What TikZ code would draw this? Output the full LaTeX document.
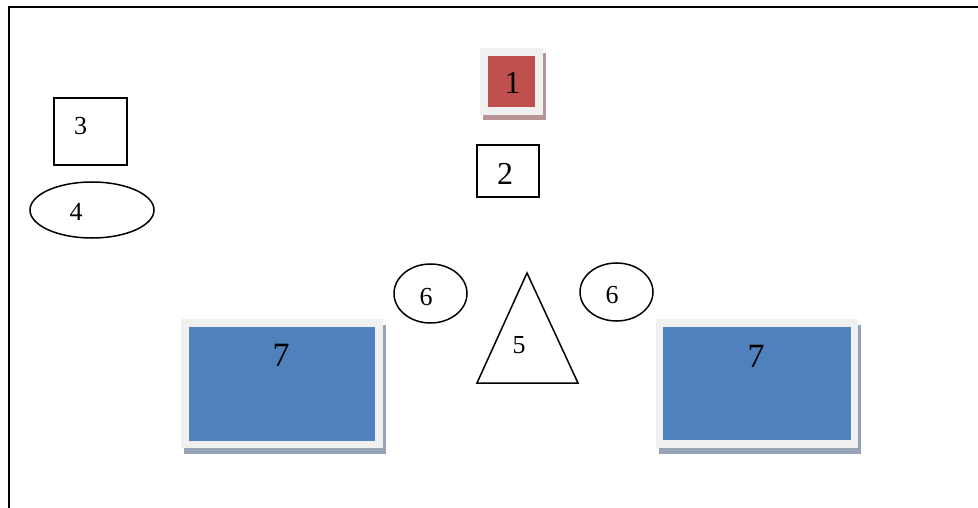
\documentclass[tikz,border=0pt]{standalone}
\usepackage{fontspec}
\setmainfont{Liberation Serif}
\usetikzlibrary{shapes.geometric,shadows}
\definecolor{framegrey}{HTML}{F0F0F0}
\definecolor{redfill}{HTML}{C0504D}
\definecolor{redshadow}{HTML}{BA9494}
\definecolor{bluefill}{HTML}{4F81BD}
\definecolor{blueshadow}{HTML}{95A3B4}
\tikzset{
  outline/.style={draw=black, line width=1.5pt, fill=white, inner sep=0pt},
  framebox/.style={rectangle, fill=framegrey, inner sep=0pt,
    drop shadow={shadow xshift=2.5pt, shadow yshift=-5.5pt, fill=#1, opacity=1}},
  innerbox/.style={rectangle, fill=#1, inner sep=0pt},
  biglabel/.style={inner sep=0pt, font=\fontsize{32}{36}\selectfont},
  hugelabel/.style={inner sep=0pt, font=\fontsize{34}{38}\selectfont},
  smalllabel/.style={inner sep=0pt, font=\fontsize{26}{30}\selectfont},
}
\begin{document}
\begin{tikzpicture}[x=1pt,y=-1pt]
\useasboundingbox (0,0) rectangle (978,508);
% page frame
\coordinate (ftl) at (8.5,7);
\coordinate (ftr) at (978,7);
\coordinate (fbl) at (8.5,508);
\draw[line width=2pt] (ftr) -- (ftl) -- (fbl);
% box 1
\node[framebox=redshadow, minimum width=63pt, minimum height=67pt] (f1) at (511.5,81.5) {};
\node[innerbox=redfill, minimum width=47pt, minimum height=51pt] (b1) at (511.5,81.5) {};
\node[biglabel] (l1) at (512.5,83) {1};
% box 2
\node[outline, rectangle, minimum width=62pt, minimum height=52pt] (b2) at (508,171) {};
\node[biglabel] (l2) at (505,174) {2};
% box 3
\node[outline, rectangle, minimum width=73pt, minimum height=67pt] (b3) at (90.5,131.5) {};
\node[smalllabel] (l3) at (80.5,126) {3};
% ellipse 4
\node[outline, ellipse, minimum width=124pt, minimum height=56pt] (e4) at (92,210) {};
\node[smalllabel] (l4) at (76,212) {4};
% ellipses 6
\node[outline, ellipse, minimum width=73pt, minimum height=59pt] (e6a) at (430.5,293.5) {};
\node[smalllabel] (l6a) at (426,297) {6};
\node[outline, ellipse, minimum width=73pt, minimum height=58pt] (e6b) at (616.5,292) {};
\node[smalllabel] (l6b) at (612,295) {6};
% triangle 5
\coordinate (ta) at (527,273);
\coordinate (tb) at (477,383);
\coordinate (tc) at (578,383);
\draw[line width=1.5pt, line join=miter] (ta) -- (tb) -- (tc) -- cycle;
\node[smalllabel] (l5) at (519,345) {5};
% blue boxes
\node[framebox=blueshadow, minimum width=202pt, minimum height=129pt] (f7a) at (282,383.5) {};
\node[innerbox=bluefill, minimum width=186pt, minimum height=114pt] (b7a) at (282,384) {};
\node[hugelabel] (l7a) at (281,355) {7};
\node[framebox=blueshadow, minimum width=202pt, minimum height=129pt] (f7b) at (757,383.5) {};
\node[innerbox=bluefill, minimum width=188pt, minimum height=113pt] (b7b) at (757,383.5) {};
\node[hugelabel] (l7b) at (756,356) {7};
\end{tikzpicture}
\end{document}
